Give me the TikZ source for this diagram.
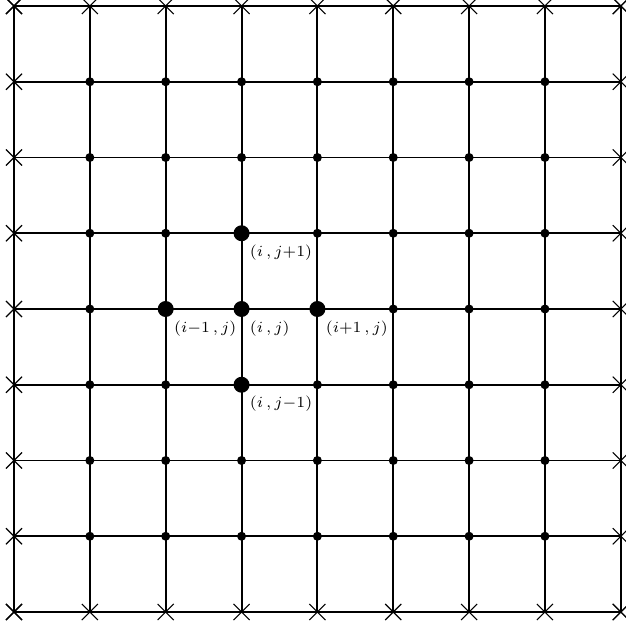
\documentclass[tikz,border=0pt]{standalone}
\usetikzlibrary{shapes.misc}
\begin{document}
\begin{tikzpicture}[x=1bp,y=-1bp,
  gridline/.style={line width=1.9bp},
  smalldot/.style={circle,fill=black,inner sep=0pt,minimum size=9bp},
  bigdot/.style={circle,fill=black,inner sep=0pt,minimum size=16bp},
  bnd/.style={cross out,draw=black,line width=1.1bp,inner sep=0pt,minimum size=15bp},
  lab/.style={anchor=north west,inner sep=0pt,scale=2.22}]
\useasboundingbox (0,0) rectangle (626,625);
% grid coordinates
\foreach \i in {0,...,8}{
  \foreach \j in {0,...,8}{
    \coordinate (p-\i-\j) at ({14+75.85*\i},{6+75.75*\j});
  }
}
% grid lines
\foreach \k in {0,...,8}{
  \draw[gridline] (p-0-\k) -- (p-8-\k);
  \draw[gridline] (p-\k-0) -- (p-\k-8);
}
% boundary crosses
\foreach \k in {0,...,8}{
  \node[bnd] (ct-\k) at (p-\k-0) {};
  \node[bnd] (cb-\k) at (p-\k-8) {};
  \node[bnd] (cl-\k) at (p-0-\k) {};
  \node[bnd] (cr-\k) at (p-8-\k) {};
}
% interior dots
\foreach \i in {1,...,7}{
  \foreach \j in {1,...,7}{
    \node[smalldot] (d-\i-\j) at (p-\i-\j) {};
  }
}
% stencil
\node[bigdot] (n) at (p-3-3) {};
\node[bigdot] (w) at (p-2-4) {};
\node[bigdot] (c) at (p-3-4) {};
\node[bigdot] (e) at (p-4-4) {};
\node[bigdot] (s) at (p-3-5) {};
\node[lab] (ln) at ([xshift=8bp,yshift=-11bp]n.center) {\scriptsize$(i\,,j{+}1)$};
\node[lab] (lw) at ([xshift=8bp,yshift=-11bp]w.center) {\scriptsize$(i{-}1\,,j)$};
\node[lab] (lc) at ([xshift=8bp,yshift=-11bp]c.center) {\scriptsize$(i\,,j)$};
\node[lab] (le) at ([xshift=8bp,yshift=-11bp]e.center) {\scriptsize$(i{+}1\,,j)$};
\node[lab] (ls) at ([xshift=8bp,yshift=-11bp]s.center) {\scriptsize$(i\,,j{-}1)$};
\end{tikzpicture}
\end{document}
